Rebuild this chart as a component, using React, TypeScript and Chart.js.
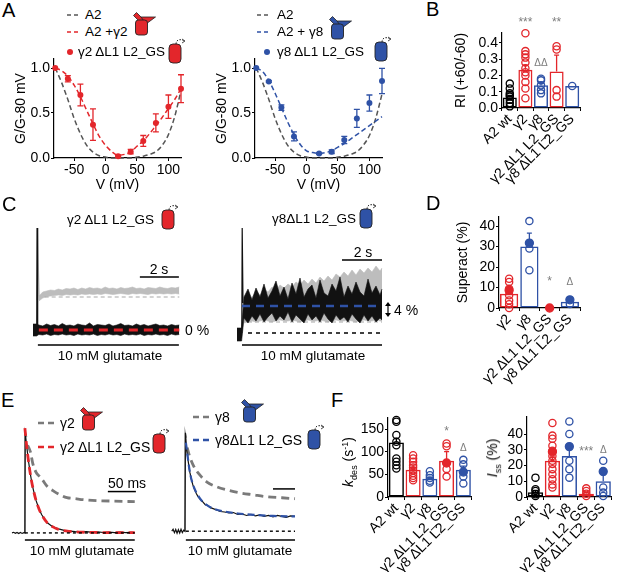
import React, { useEffect, useRef } from 'react';
import { Chart, registerables } from 'chart.js';

Chart.register(...registerables);

const FONT = "'Liberation Sans', Arial, Helvetica, sans-serif";
Chart.defaults.font.family = FONT;
Chart.defaults.font.size = 14;
Chart.defaults.color = '#000';

const RED = '#e3262b';
const BLUE = '#2f52a6';
const BLACK = '#000000';
const DARKGRAY = '#555555';
const MIDGRAY = '#7a7a7a';
const LIGHTGRAY = '#bdbdbd';
const REFGRAY = '#a8a8a8';
const SIGGRAY = '#7d7d7d';
const NONE = 'rgba(255,255,255,0)';

// ================= Panel A : G/G-80 vs V =================
const gvVoltage = [-80, -60, -40, -20, 20, 40, 60, 80, 100, 120];
const gvG2dl = [1.0, 0.88, 0.7, 0.37, 0.02, 0.07, 0.19, 0.39, 0.57, 0.77];
const gvG2dlErr = [0, 0.035, 0.12, 0.175, 0.01, 0.025, 0.06, 0.1, 0.13, 0.155];
const gvG8dl = [1.0, 0.85, 0.56, 0.24, 0.05, 0.07, 0.2, 0.44, 0.61, 0.855];
const gvG8dlErr = [0, 0.01, 0.03, 0.05, 0.01, 0.02, 0.04, 0.1, 0.09, 0.14];
const fitVoltage = [-80, -70, -60, -50, -40, -30, -20, -10, 0, 10, 20, 30, 40, 50, 60, 70, 80, 90, 100, 110, 120];
const fitA2left = [1.0, 0.84, 0.65, 0.44, 0.27, 0.14, 0.065, 0.025, 0.01, 0.0, 0.0, 0.0, 0.0, 0.01, 0.02, 0.04, 0.07, 0.14, 0.26, 0.46, 0.75];
const fitA2right = [1.0, 0.84, 0.65, 0.44, 0.27, 0.14, 0.065, 0.025, 0.01, 0.0, 0.0, 0.0, 0.0, 0.01, 0.02, 0.04, 0.07, 0.14, 0.25, 0.44, 0.71];
const fitA2G2 = [1.0, 0.97, 0.91, 0.81, 0.68, 0.53, 0.38, 0.24, 0.14, 0.07, 0.03, 0.04, 0.07, 0.13, 0.19, 0.27, 0.36, 0.45, 0.55, 0.65, 0.77];
const fitA2G8 = [1.0, 0.96, 0.86, 0.72, 0.56, 0.4, 0.26, 0.15, 0.08, 0.06, 0.05, 0.06, 0.08, 0.12, 0.16, 0.21, 0.26, 0.31, 0.36, 0.41, 0.46];
const gvXTicks = [-50, 0, 50, 100];
const gvYTicks = [0, 0.5, 1.0];

// ================= Panel B : RI =================
const fiveCats = ['A2 wt', 'γ2', 'γ8', 'γ2 ΔL1 L2_GS', 'γ8 ΔL1 L2_GS'];
const fiveColors = [BLACK, RED, BLUE, RED, BLUE];
const riMean = [0.065, 0.235, 0.14, 0.225, 0.135];
const riSem = [0.012, 0.028, 0.015, 0.1, 0];
const riA2wt = [0.15, 0.12, 0.09, 0.08, 0.07, 0.05, 0.03, 0.01];
const riG2 = [0.46, 0.35, 0.33, 0.31, 0.28, 0.245, 0.22, 0.2, 0.16, 0.12, 0.06];
const riG8 = [0.18, 0.17, 0.14, 0.11, 0.09];
const riG2dl = [0.38, 0.36, 0.11, 0.07];
const riG8dl = [0.135];
const riSig = ['', '***', 'ΔΔ', '**', ''];
const riSigLevel = [0, 0.54, 0.275, 0.54, 0];
const riTicks = [0, 0.1, 0.2, 0.3, 0.4];

// ================= Panel C : superactivation traces =================
const cLeftT = [-0.2, -0.02, 0.1, 0.3, 0.5, 0.7, 0.9, 1.1, 1.3, 1.5, 1.7, 1.9, 2.1, 2.3, 2.5, 2.7, 2.9, 3.1, 3.3, 3.5, 3.7, 3.9, 4.1, 4.3, 4.5, 4.7, 4.9, 5.1, 5.3, 5.5, 5.7, 5.9, 6.1, 6.3, 6.5, 6.7, 6.9, 7.1, 7.3];
const cLeftBlackHi = [0.06, 0.06, 0.05, 0.04, 0.06, 0.045, 0.055, 0.04, 0.065, 0.045, 0.05, 0.04, 0.06, 0.05, 0.045, 0.07, 0.04, 0.055, 0.05, 0.045, 0.06, 0.04, 0.05, 0.065, 0.045, 0.05, 0.04, 0.06, 0.045, 0.055, 0.04, 0.05, 0.06, 0.045, 0.05, 0.04, 0.055, 0.045, 0.05];
const cLeftBlackLo = [-0.06, -0.06, -0.045, -0.05, -0.04, -0.055, -0.045, -0.05, -0.04, -0.05, -0.045, -0.055, -0.04, -0.05, -0.045, -0.05, -0.04, -0.055, -0.045, -0.05, -0.04, -0.05, -0.045, -0.055, -0.04, -0.05, -0.045, -0.05, -0.04, -0.055, -0.045, -0.05, -0.04, -0.05, -0.045, -0.055, -0.04, -0.05, -0.045];
const cLeftGrayT = [0.1, 0.3, 0.5, 0.7, 0.9, 1.1, 1.3, 1.5, 1.7, 1.9, 2.1, 2.3, 2.5, 2.7, 2.9, 3.1, 3.3, 3.5, 3.7, 3.9, 4.1, 4.3, 4.5, 4.7, 4.9, 5.1, 5.3, 5.5, 5.7, 5.9, 6.1, 6.3, 6.5, 6.7, 6.9, 7.1, 7.3];
const cLeftGrayHi = [0.34, 0.38, 0.39, 0.4, 0.395, 0.41, 0.4, 0.415, 0.41, 0.42, 0.405, 0.42, 0.41, 0.425, 0.415, 0.42, 0.41, 0.43, 0.415, 0.42, 0.41, 0.425, 0.415, 0.42, 0.43, 0.415, 0.42, 0.41, 0.425, 0.42, 0.415, 0.43, 0.42, 0.415, 0.425, 0.42, 0.43];
const cLeftGrayLo = [0.29, 0.32, 0.335, 0.34, 0.345, 0.35, 0.345, 0.355, 0.35, 0.355, 0.35, 0.36, 0.355, 0.36, 0.355, 0.36, 0.355, 0.365, 0.36, 0.355, 0.36, 0.365, 0.36, 0.355, 0.365, 0.36, 0.365, 0.36, 0.355, 0.365, 0.36, 0.365, 0.36, 0.365, 0.36, 0.365, 0.36];
const cLeftSpikeT = [-0.01, 0.01, 0.04];
const cLeftSpikeBlack = [-0.04, 1.02, 0.04];
const cLeftSpikeGrayT = [0.0, 0.02, 0.12];
const cLeftSpikeGray = [0.3, 1.02, 0.3];
const cLeftGrayRefT = [0.4, 7.3];
const cLeftGrayRef = [0.33, 0.33];
const cLeftRedT = [0.1, 7.3];
const cLeftRed = [0, 0];
const cLeftGluT = [0.05, 7.28];
const cLeftGlu = [-0.15, -0.15];
const cLeftScaleT = [5.28, 7.28];
const cLeftScale = [0.53, 0.53];

const cRightT = [-0.25, -0.02, 0.1, 0.3, 0.5, 0.7, 0.9, 1.1, 1.3, 1.5, 1.7, 1.9, 2.1, 2.3, 2.5, 2.7, 2.9, 3.1, 3.3, 3.5, 3.7, 3.9, 4.1, 4.3, 4.5, 4.7, 4.9, 5.1, 5.3, 5.5, 5.7, 5.9, 6.1, 6.3, 6.5, 6.7, 6.9, 7.0];
const cRightBlackHi = [0.05, 0.05, 0.36, 0.44, 0.33, 0.45, 0.36, 0.49, 0.35, 0.42, 0.52, 0.37, 0.46, 0.34, 0.5, 0.39, 0.55, 0.36, 0.44, 0.48, 0.35, 0.53, 0.4, 0.37, 0.49, 0.42, 0.56, 0.36, 0.47, 0.39, 0.51, 0.41, 0.37, 0.54, 0.4, 0.47, 0.38, 0.44];
const cRightBlackLo = [-0.08, -0.08, 0.15, 0.1, 0.17, 0.12, 0.19, 0.11, 0.16, 0.2, 0.12, 0.17, 0.13, 0.21, 0.11, 0.18, 0.14, 0.1, 0.19, 0.13, 0.17, 0.11, 0.2, 0.14, 0.1, 0.18, 0.13, 0.16, 0.11, 0.19, 0.14, 0.1, 0.18, 0.12, 0.17, 0.11, 0.15, 0.13];
const cRightGrayT = [0.1, 0.3, 0.5, 0.7, 0.9, 1.1, 1.3, 1.5, 1.7, 1.9, 2.1, 2.3, 2.5, 2.7, 2.9, 3.1, 3.3, 3.5, 3.7, 3.9, 4.1, 4.3, 4.5, 4.7, 4.9, 5.1, 5.3, 5.5, 5.7, 5.9, 6.1, 6.3, 6.5, 6.7, 6.9, 7.0];
const cRightGrayHi = [0.3, 0.35, 0.36, 0.41, 0.38, 0.44, 0.41, 0.46, 0.43, 0.48, 0.45, 0.49, 0.46, 0.51, 0.48, 0.53, 0.49, 0.54, 0.5, 0.56, 0.52, 0.57, 0.53, 0.59, 0.56, 0.61, 0.57, 0.63, 0.58, 0.64, 0.6, 0.65, 0.61, 0.67, 0.62, 0.65];
const cRightGrayLo = [0.1, 0.11, 0.12, 0.11, 0.12, 0.13, 0.12, 0.11, 0.12, 0.13, 0.12, 0.12, 0.13, 0.12, 0.11, 0.12, 0.13, 0.12, 0.12, 0.13, 0.12, 0.11, 0.12, 0.13, 0.12, 0.12, 0.13, 0.12, 0.11, 0.12, 0.13, 0.12, 0.12, 0.13, 0.12, 0.12];
const cRightSpikeT = [-0.01, 0.01, 0.05];
const cRightSpike = [0.0, 1.05, 0.3];
const cRightRefT = [0.3, 7.0];
const cRightBaseline = [0, 0];
const cRightGrayRef = [0.11, 0.11];
const cRightBlueT = [0.0, 7.0];
const cRightBlue = [0.27, 0.27];
const cRightGluT = [0.0, 7.0];
const cRightGlu = [-0.12, -0.12];
const cRightScaleT = [5.0, 7.0];
const cRightScale = [0.73, 0.73];

// ================= Panel D : Superactivation =================
const fourCats = ['γ2', 'γ8', 'γ2 ΔL1 L2_GS', 'γ8 ΔL1 L2_GS'];
const fourColors = [RED, BLUE, RED, BLUE];
const saMean = [7, 30, 0, 3];
const saSem = [1.2, 6.5, 0, 0];
const saG2 = [14.3, 12.7, 9.4, 6.2, 3.7, 1.8, 0];
const saG2Ex = [8.6];
const saG8 = [42.4, 29, 18.4];
const saG8Ex = [31.7];
const saG2dlEx = [0];
const saG8dl = [2];
const saG8dlEx = [4];
const saSig = ['', '', '*', 'Δ'];
const saSigLevel = [0, 0, 13.7, 12.7];
const saTicks = [0, 10, 20, 30, 40];

// ================= Panel E : desensitization traces =================
const eLeftBlackT = [-23, -20, -17, -14, -11, -8, -5, -2, 0, 0.5, 3, 6, 9, 12, 15, 20, 25, 30, 40, 50, 60, 70, 80, 90, 100, 110, 120, 130, 140, 150, 160, 170, 180, 190, 196];
const eLeftBlack = [0.0, 0.006, -0.004, 0.005, -0.006, 0.004, -0.005, 0.003, 0.0, 1.0, 0.87, 0.73, 0.61, 0.51, 0.43, 0.32, 0.24, 0.18, 0.1, 0.06, 0.04, 0.025, 0.018, 0.012, 0.01, 0.012, 0.006, 0.01, 0.004, 0.008, 0.003, 0.007, 0.002, 0.006, 0.003];
const eLeftRedT = [0, 3, 6, 9, 12, 15, 20, 25, 30, 40, 50, 60, 80, 100, 130, 160, 196];
const eLeftRed = [1.04, 0.87, 0.73, 0.61, 0.51, 0.43, 0.32, 0.24, 0.18, 0.1, 0.06, 0.035, 0.015, 0.008, 0.004, 0.002, 0.002];
const eLeftGrayT = [5, 10, 14, 20, 26, 32, 40, 50, 62, 75, 90, 104, 130, 160, 196];
const eLeftGray = [0.87, 0.8, 0.69, 0.6, 0.56, 0.52, 0.46, 0.42, 0.38, 0.35, 0.34, 0.33, 0.32, 0.315, 0.31];
const eRiseT = [0, 0.5, 3];
const eRise = [0, 1.0, 0.95];
const eLeftBaseT = [0, 196];
const eLeftBase = [0, 0];
const eLeftGluT = [0, 196];
const eLeftGlu = [-0.07, -0.07];
const eLeftScaleT = [148, 198];
const eLeftScale = [0.41, 0.41];

const eRightBlackT = [-30, -27, -24, -21, -18, -15, -12, -9, -6, -3, 0, 1, 4, 7, 11, 15, 18, 22, 26, 30, 34, 40, 46, 52, 58, 64, 72, 80, 90, 100, 110, 120, 130, 140, 150, 160, 170, 180, 190, 200, 210, 220, 230, 240, 250];
const eRightBlack = [0.0, 0.02, -0.015, 0.018, -0.02, 0.015, -0.018, 0.02, -0.015, 0.01, 0.0, 1.0, 0.82, 0.72, 0.6, 0.52, 0.47, 0.42, 0.38, 0.35, 0.33, 0.3, 0.27, 0.26, 0.24, 0.23, 0.215, 0.2, 0.195, 0.185, 0.19, 0.17, 0.175, 0.16, 0.17, 0.155, 0.165, 0.15, 0.16, 0.145, 0.16, 0.15, 0.14, 0.155, 0.15];
const eRightBlueT = [2, 5, 10, 15, 20, 30, 40, 55, 70, 90, 120, 160, 200, 250];
const eRightBlue = [0.9, 0.8, 0.63, 0.52, 0.45, 0.36, 0.3, 0.25, 0.22, 0.2, 0.18, 0.165, 0.155, 0.15];
const eRightGrayT = [5, 10, 20, 34, 50, 73, 100, 125, 155, 186, 220, 250];
const eRightGray = [0.85, 0.77, 0.66, 0.57, 0.5, 0.45, 0.415, 0.39, 0.37, 0.35, 0.34, 0.33];
const eRightBaseT = [2, 250];
const eRightBase = [0, 0];
const eRightGluT = [2, 250];
const eRightGlu = [-0.09, -0.09];
const eRightScaleT = [200, 250];
const eRightScale = [0.43, 0.43];

// ================= Panel F : k_des and I_ss =================
const kMean = [120, 60, 40, 80, 60];
const kSem = [9, 5, 4, 20, 8];
const kA2wt = [170, 166, 137, 122, 114, 85, 78, 70, 63];
const kG2 = [92, 85, 78, 70, 65, 59, 53, 47, 42, 37];
const kG8 = [57, 48, 42, 36, 32];
const kG2dl = [118, 112, 62, 45];
const kG2dlEx = [75];
const kG8dl = [82, 72, 45, 30];
const kG8dlEx = [55];
const kSig = ['', '', '', '*', 'Δ'];
const kSigLevel = [0, 0, 0, 148, 107];
const kTicks = [0, 50, 100, 150];

const issMean = [3, 23, 26, 2, 10];
const issSem = [1.2, 2.5, 4.5, 0.8, 4];
const issA2wt = [12.3, 4.9, 3.8, 1.7, 0.6];
const issG2 = [47, 39, 37, 32.5, 29.4, 26, 23, 21, 17.7, 14.5, 11.3, 8, 6];
const issG2Ex = [28.7];
const issG8 = [48, 40, 23, 17.7, 12.3];
const issG8Ex = [32];
const issG2dl = [5.5, 3.8, 2.1, 0.6];
const issG8dl = [23, 6, 2.8, 0.6];
const issG8dlEx = [16.2];
const issSig = ['', '', '', '***', 'Δ'];
const issSigLevel = [0, 0, 0, 30, 30];
const issTicks = [0, 10, 20, 30, 40];

// ================= layout frames (plot areas in page pixels) =================
type Frame = { l: number; t: number; r: number; b: number; ml?: number; mt?: number; mr?: number; mb?: number; pad?: number };
const frAL: Frame = { l: 54, t: 59, r: 181, b: 158, ml: 41, mt: 6, mr: 6, mb: 36 };
const frAR: Frame = { l: 255, t: 59, r: 382, b: 158, ml: 41, mt: 6, mr: 6, mb: 36 };
const frB: Frame = { l: 502, t: 33, r: 580, b: 108, ml: 49, mt: 30, mr: 8, mb: 100 };
const frCL: Frame = { l: 33, t: 222, r: 182, b: 348, pad: 3 };
const frCR: Frame = { l: 237, t: 222, r: 383, b: 348, pad: 3 };
const frD: Frame = { l: 499, t: 217, r: 580, b: 308, ml: 44, mt: 12, mr: 8, mb: 95 };
const frEL: Frame = { l: 12, t: 425, r: 137, b: 543, pad: 3 };
const frER: Frame = { l: 172, t: 425, r: 295, b: 543, pad: 3 };
const frFL: Frame = { l: 388, t: 418, r: 472, b: 497, ml: 34, mt: 12, mr: 5, mb: 75 };
const frFR: Frame = { l: 527, t: 417, r: 613, b: 497, ml: 30, mt: 12, mr: 4, mb: 75 };

function geom(f: Frame) {
  if (f.pad !== undefined) {
    return { left: f.l - f.pad, top: f.t - f.pad, w: f.r - f.l + 2 * f.pad, h: f.b - f.t + 2 * f.pad };
  }
  return { left: f.l - f.ml!, top: f.t - f.mt!, w: f.r - f.l + f.ml! + f.mr!, h: f.b - f.t + f.mt! + f.mb! };
}

// ================= plugins =================
const errorBarPlugin = {
  id: 'errbars',
  afterDatasetsDraw(chart: any) {
    const ctx = chart.ctx;
    chart.data.datasets.forEach((ds: any, di: number) => {
      if (!ds.errors) return;
      const meta = chart.getDatasetMeta(di);
      const ys = chart.scales[meta.yAxisID];
      meta.data.forEach((el: any, i: number) => {
        const e = ds.errors[i];
        if (!e) return;
        const raw = ds.data[i];
        const v = typeof raw === 'number' ? raw : raw.y;
        const x = el.x;
        const top = ys.getPixelForValue(v + e);
        const bot = ds.errUp ? ys.getPixelForValue(v) : ys.getPixelForValue(v - e);
        const cap = ds.errCap ?? 3;
        ctx.save();
        ctx.strokeStyle = Array.isArray(ds.errColor) ? ds.errColor[i] : ds.errColor;
        ctx.lineWidth = 1.3;
        ctx.beginPath();
        ctx.moveTo(x, top);
        ctx.lineTo(x, bot);
        ctx.moveTo(x - cap, top);
        ctx.lineTo(x + cap, top);
        if (!ds.errUp) {
          ctx.moveTo(x - cap, bot);
          ctx.lineTo(x + cap, bot);
        }
        ctx.stroke();
        ctx.restore();
      });
    });
  },
};

const sigPlugin = {
  id: 'sig',
  afterDatasetsDraw(chart: any, _a: any, opts: any) {
    if (!opts || !opts.labels) return;
    const ctx = chart.ctx;
    const xs = chart.scales.x;
    const ys = chart.scales.y;
    ctx.save();
    ctx.fillStyle = SIGGRAY;
    ctx.textAlign = 'center';
    ctx.textBaseline = 'middle';
    opts.labels.forEach((t: string, i: number) => {
      if (!t) return;
      const isTri = t.indexOf('Δ') >= 0;
      ctx.font = `${isTri ? 10 : 12}px ${FONT}`;
      ctx.fillText(t, xs.getPixelForValue(i), ys.getPixelForValue(opts.levels[i]) + (isTri ? 0 : 2));
    });
    ctx.restore();
  },
};

// ================= option builders =================
function baseOptions(f: Frame, scales: any, extraPlugins: any = {}) {
  const hasAxes = f.pad === undefined;
  return {
    animation: false,
    responsive: true,
    maintainAspectRatio: false,
    events: [],
    layout: {
      padding: hasAxes
        ? { left: 0, top: f.mt, right: f.mr, bottom: 0 }
        : { left: f.pad, top: f.pad, right: f.pad, bottom: f.pad },
    },
    plugins: { legend: { display: false }, tooltip: { enabled: false }, ...extraPlugins },
    scales,
  };
}

function zeroPad(s: any) {
  s.paddingLeft = 0;
  s.paddingRight = 0;
  s.paddingTop = 0;
  s.paddingBottom = 0;
}

function valueAxis(axis: 'x' | 'y', min: number, max: number, ticks: number[], fmt: (v: number) => string, size: number, title?: string) {
  return {
    type: 'linear',
    min,
    max,
    afterBuildTicks: (s: any) => {
      s.ticks = ticks.map((v) => ({ value: v }));
    },
    afterFit: (s: any) => {
      if (axis === 'y') s.width = size;
      else s.height = size;
      zeroPad(s);
    },
    grid: { drawOnChartArea: false, drawTicks: true, tickLength: 3, color: '#000', lineWidth: 1 },
    border: { display: true, color: '#000', width: 1.2 },
    ticks: { padding: 1, maxRotation: 0, autoSkip: false, color: '#000', font: { size: 14 }, callback: (v: any) => fmt(Number(v)) },
    title: title ? { display: true, text: title, padding: 0, color: '#000', font: { size: 14 } } : { display: false },
  };
}

function categoryAxis(size: number) {
  return {
    type: 'category',
    offset: true,
    afterFit: (s: any) => {
      s.height = size;
      zeroPad(s);
    },
    grid: { offset: true, drawOnChartArea: false, drawTicks: true, tickLength: 3, color: '#000', lineWidth: 1 },
    border: { display: true, color: '#000', width: 1.2 },
    ticks: { minRotation: 45, maxRotation: 45, autoSkip: false, padding: 0, color: '#000', font: { size: 14 } },
  };
}

function lineDs(xs: number[], ys: number[], color: string, width = 1.5, dash: number[] = [], extra: any = {}) {
  return {
    type: 'line',
    data: xs.map((x, i) => ({ x, y: ys[i] })),
    borderColor: color,
    backgroundColor: color,
    borderWidth: width,
    borderDash: dash,
    pointRadius: 0,
    tension: 0,
    fill: false,
    clip: false,
    ...extra,
  };
}

function bandDs(xs: number[], lo: number[], hi: number[], color: string) {
  return [lineDs(xs, lo, color, 0.6), lineDs(xs, hi, color, 0.6, [], { fill: '-1', backgroundColor: color })];
}

function ordered(ds: any[]) {
  ds.forEach((d, i) => (d.order = -i));
  return ds;
}

function gvConfig(f: Frame, a2: number[], fit: number[], pts: number[], errs: number[], color: string) {
  const datasets = ordered([
    lineDs(fitVoltage, a2, DARKGRAY, 1.5, [5, 3], { cubicInterpolationMode: 'monotone' }),
    lineDs(fitVoltage, fit, color, 1.5, [5, 3], { cubicInterpolationMode: 'monotone' }),
    {
      type: 'line',
      showLine: false,
      data: gvVoltage.map((x, i) => ({ x, y: pts[i] })),
      pointRadius: 3,
      pointBackgroundColor: color,
      pointBorderColor: color,
      pointBorderWidth: 0,
      errors: errs,
      errColor: color,
      errCap: 3,
      clip: false,
    },
  ]);
  return {
    type: 'line',
    data: { datasets },
    options: baseOptions(f, {
      x: valueAxis('x', -82, 120, gvXTicks, (v) => String(v), f.mb!, 'V (mV)'),
      y: valueAxis('y', 0, 1.1, gvYTicks, (v) => v.toFixed(1), f.ml!, 'G/G-80 mV'),
    }),
    plugins: [errorBarPlugin],
  };
}

type Group = { cat: number; vals: number[]; filled?: boolean };

function barConfig(f: Frame, cats: string[], colors: string[], means: number[], sems: number[], groups: Group[], yMax: number, yTicks: number[], fmt: (v: number) => string, yTitle: string | undefined, sig: string[], sigLevel: number[]) {
  const datasets: any[] = [
    {
      type: 'bar',
      data: means,
      borderColor: colors,
      backgroundColor: NONE,
      borderWidth: 1.5,
      borderSkipped: false,
      categoryPercentage: 0.9,
      barPercentage: 1,
      errors: sems,
      errUp: true,
      errColor: colors,
      errCap: 2.5,
    },
  ];
  groups.forEach((g) =>
    datasets.push({
      type: 'line',
      showLine: false,
      data: g.vals.map((v) => ({ x: cats[g.cat], y: v })),
      pointRadius: g.filled ? 4 : 3.6,
      pointBorderWidth: 1.3,
      pointBorderColor: colors[g.cat],
      pointBackgroundColor: g.filled ? colors[g.cat] : NONE,
      clip: false,
    })
  );
  return {
    type: 'bar',
    data: { labels: cats, datasets: ordered(datasets) },
    options: baseOptions(
      f,
      {
        x: categoryAxis(f.mb!),
        y: valueAxis('y', 0, yMax, yTicks, fmt, f.ml!, yTitle),
      },
      { sig: { labels: sig, levels: sigLevel } }
    ),
    plugins: [errorBarPlugin, sigPlugin],
  };
}

function traceConfig(f: Frame, xr: number[], yr: number[], datasets: any[]) {
  return {
    type: 'line',
    data: { datasets: ordered(datasets) },
    options: baseOptions(f, {
      x: { type: 'linear', display: false, min: xr[0], max: xr[1] },
      y: { type: 'linear', display: false, min: yr[0], max: yr[1] },
    }),
  };
}

// scale ranges of the trace panels
const cLeftX = [-0.2, 7.44];
const cLeftY = [-0.18, 1.08];
const cRightX = [-0.25, 7.05];
const cRightY = [-0.15, 1.11];
const eLeftX = [-23, 200];
const eLeftY = [-0.1, 1.07];
const eRightX = [-29.5, 250];
const eRightY = [-0.12, 1.08];

const makers: Record<string, () => any> = {
  aL: () => gvConfig(frAL, fitA2left, fitA2G2, gvG2dl, gvG2dlErr, RED),
  aR: () => gvConfig(frAR, fitA2right, fitA2G8, gvG8dl, gvG8dlErr, BLUE),
  b: () =>
    barConfig(frB, fiveCats, fiveColors, riMean, riSem,
      [{ cat: 0, vals: riA2wt }, { cat: 1, vals: riG2 }, { cat: 2, vals: riG8 }, { cat: 3, vals: riG2dl }, { cat: 4, vals: riG8dl }],
      0.4615, riTicks, (v) => v.toFixed(1), 'RI (+60/-60)', riSig, riSigLevel),
  d: () =>
    barConfig(frD, fourCats, fourColors, saMean, saSem,
      [{ cat: 0, vals: saG2 }, { cat: 0, vals: saG2Ex, filled: true }, { cat: 1, vals: saG8 }, { cat: 1, vals: saG8Ex, filled: true },
       { cat: 2, vals: saG2dlEx, filled: true }, { cat: 3, vals: saG8dl }, { cat: 3, vals: saG8dlEx, filled: true }],
      44.4, saTicks, (v) => String(v), 'Superact (%)', saSig, saSigLevel),
  fL: () =>
    barConfig(frFL, fiveCats, fiveColors, kMean, kSem,
      [{ cat: 0, vals: kA2wt }, { cat: 1, vals: kG2 }, { cat: 2, vals: kG8 }, { cat: 3, vals: kG2dl }, { cat: 3, vals: kG2dlEx, filled: true },
       { cat: 4, vals: kG8dl }, { cat: 4, vals: kG8dlEx, filled: true }],
      174.3, kTicks, (v) => String(v), undefined, kSig, kSigLevel),
  fR: () =>
    barConfig(frFR, fiveCats, fiveColors, issMean, issSem,
      [{ cat: 0, vals: issA2wt }, { cat: 1, vals: issG2 }, { cat: 1, vals: issG2Ex, filled: true }, { cat: 2, vals: issG8 }, { cat: 2, vals: issG8Ex, filled: true },
       { cat: 3, vals: issG2dl }, { cat: 4, vals: issG8dl }, { cat: 4, vals: issG8dlEx, filled: true }],
      50.8, issTicks, (v) => String(v), undefined, issSig, issSigLevel),
  cL: () =>
    traceConfig(frCL, cLeftX, cLeftY, [
      lineDs(cLeftSpikeGrayT, cLeftSpikeGray, LIGHTGRAY, 1.2),
      ...bandDs(cLeftGrayT, cLeftGrayLo, cLeftGrayHi, LIGHTGRAY),
      lineDs(cLeftGrayRefT, cLeftGrayRef, REFGRAY, 1.2, [4, 3]),
      lineDs(cLeftSpikeT, cLeftSpikeBlack, '#111', 1.2),
      ...bandDs(cLeftT, cLeftBlackLo, cLeftBlackHi, '#111'),
      lineDs(cLeftRedT, cLeftRed, RED, 3, [9, 6]),
      lineDs(cLeftGluT, cLeftGlu, BLACK, 1.5),
      lineDs(cLeftScaleT, cLeftScale, BLACK, 1.5),
    ]),
  cR: () =>
    traceConfig(frCR, cRightX, cRightY, [
      lineDs(cRightRefT, cRightBaseline, BLACK, 1.5, [4, 4]),
      ...bandDs(cRightGrayT, cRightGrayLo, cRightGrayHi, LIGHTGRAY),
      lineDs(cRightRefT, cRightGrayRef, REFGRAY, 1.2, [4, 3]),
      lineDs(cRightSpikeT, cRightSpike, '#111', 1.2),
      ...bandDs(cRightT, cRightBlackLo, cRightBlackHi, '#111'),
      lineDs(cRightBlueT, cRightBlue, BLUE, 2.5, [8, 6]),
      lineDs(cRightGluT, cRightGlu, BLACK, 1.5),
      lineDs(cRightScaleT, cRightScale, BLACK, 1.5),
    ]),
  eL: () =>
    traceConfig(frEL, eLeftX, eLeftY, [
      lineDs(eRiseT, eRise, '#9a9a9a', 1.6),
      lineDs(eLeftGrayT, eLeftGray, MIDGRAY, 2.8, [8, 5], { cubicInterpolationMode: 'monotone' }),
      lineDs(eLeftBlackT, eLeftBlack, '#111', 1.2),
      lineDs(eLeftRedT, eLeftRed, RED, 2.8, [8, 5], { cubicInterpolationMode: 'monotone' }),
      lineDs(eLeftBaseT, eLeftBase, BLACK, 1.4, [3, 3]),
      lineDs(eLeftGluT, eLeftGlu, BLACK, 1.5),
      lineDs(eLeftScaleT, eLeftScale, BLACK, 1.5),
    ]),
  eR: () =>
    traceConfig(frER, eRightX, eRightY, [
      lineDs(eRiseT, eRise, '#9a9a9a', 1.6),
      lineDs(eRightGrayT, eRightGray, MIDGRAY, 2.8, [8, 5], { cubicInterpolationMode: 'monotone' }),
      lineDs(eRightBlackT, eRightBlack, '#111', 1.2),
      lineDs(eRightBlueT, eRightBlue, BLUE, 2.2, [7, 4], { cubicInterpolationMode: 'monotone' }),
      lineDs(eRightBaseT, eRightBase, BLACK, 1.4, [3, 3]),
      lineDs(eRightGluT, eRightGlu, BLACK, 1.5),
      lineDs(eRightScaleT, eRightScale, BLACK, 1.5),
    ]),
};

const frames: Record<string, Frame> = { aL: frAL, aR: frAR, b: frB, cL: frCL, cR: frCR, d: frD, eL: frEL, eR: frER, fL: frFL, fR: frFR };

function ChartBox({ id }: { id: string }) {
  const ref = useRef<HTMLCanvasElement>(null);
  useEffect(() => {
    const ch = new Chart(ref.current as HTMLCanvasElement, makers[id]() as any);
    return () => ch.destroy();
  }, [id]);
  const g = geom(frames[id]);
  return (
    <div style={{ position: 'absolute', left: g.left, top: g.top, width: g.w, height: g.h }}>
      <canvas ref={ref} />
    </div>
  );
}

// ================= HTML overlays (text, legends, icons) =================
function T({ x, y, s = 14, c = '#000', a = 'l', children }: { x: number; y: number; s?: number; c?: string; a?: 'l' | 'c' | 'r'; children: React.ReactNode }) {
  const tx = a === 'l' ? '0' : a === 'c' ? '-50%' : '-100%';
  return (
    <div style={{ position: 'absolute', left: x, top: y, transform: `translate(${tx},-50%)`, fontSize: s, color: c, whiteSpace: 'nowrap', lineHeight: 1 }}>
      {children}
    </div>
  );
}

function VT({ x, y, s = 14, children }: { x: number; y: number; s?: number; children: React.ReactNode }) {
  return (
    <div style={{ position: 'absolute', left: x, top: y, transform: 'translate(-50%,-50%) rotate(-90deg)', fontSize: s, whiteSpace: 'nowrap', lineHeight: 1 }}>
      {children}
    </div>
  );
}

function Dash({ x1, x2, y, c, w = 1.5, d = '4 3' }: { x1: number; x2: number; y: number; c: string; w?: number; d?: string }) {
  return (
    <svg style={{ position: 'absolute', left: x1, top: y - 3, overflow: 'visible' }} width={x2 - x1} height={6}>
      <line x1={0} y1={3} x2={x2 - x1} y2={3} stroke={c} strokeWidth={w} strokeDasharray={d} />
    </svg>
  );
}

function Dot({ x, y, c }: { x: number; y: number; c: string }) {
  return <div style={{ position: 'absolute', left: x - 3, top: y - 3, width: 6, height: 6, borderRadius: 3, background: c }} />;
}

function IconFull({ x, y, c }: { x: number; y: number; c: string }) {
  return (
    <svg style={{ position: 'absolute', left: x, top: y }} width={24} height={24} viewBox="0 0 24 24">
      <polygon points="0.5,3.5 3.5,0.5 11.5,8.5 8.5,11.5" fill={c} stroke="#222" strokeWidth={0.8} />
      <polygon points="8,5 22.5,5 13,12" fill={c} stroke="#222" strokeWidth={0.8} />
      <rect x={2.5} y={8} width={12} height={15} rx={3} fill={c} stroke="#222" strokeWidth={0.9} />
    </svg>
  );
}

function IconDL({ x, y, c }: { x: number; y: number; c: string }) {
  return (
    <svg style={{ position: 'absolute', left: x, top: y }} width={20} height={26} viewBox="0 0 20 26">
      <path d="M8 6 C8 1.5, 12.5 0.5, 16 3" fill="none" stroke="#222" strokeWidth={1} strokeDasharray="1.5 1.5" />
      <path d="M14 1 L17 3 L14 5" fill="none" stroke="#222" strokeWidth={0.8} />
      <rect x={1} y={6} width={12} height={19} rx={4} fill={c} stroke="#222" strokeWidth={0.9} />
    </svg>
  );
}

function DoubleArrow({ x, y1, y2 }: { x: number; y1: number; y2: number }) {
  return (
    <svg style={{ position: 'absolute', left: x - 4, top: y1 }} width={8} height={y2 - y1}>
      <line x1={4} y1={2} x2={4} y2={y2 - y1 - 2} stroke="#000" strokeWidth={1.2} />
      <polygon points={`1,4 4,0 7,4`} fill="#000" />
      <polygon points={`1,${y2 - y1 - 4} 4,${y2 - y1} 7,${y2 - y1 - 4}`} fill="#000" />
    </svg>
  );
}

export default function App() {
  return (
    <div style={{ position: 'absolute', left: 0, top: 0, width: 617, height: 572, overflow: 'hidden', background: '#fff', fontFamily: FONT, color: '#000' }}>
      {['aL', 'aR', 'b', 'cL', 'cR', 'd', 'eL', 'eR', 'fL', 'fR'].map((id) => (
        <ChartBox key={id} id={id} />
      ))}

      {/* panel letters */}
      <T x={2} y={10} s={20}>A</T>
      <T x={426} y={9} s={20}>B</T>
      <T x={2} y={204} s={20}>C</T>
      <T x={426} y={203} s={20}>D</T>
      <T x={1} y={400} s={20}>E</T>
      <T x={331} y={400} s={20}>F</T>

      {/* A left legend */}
      <Dash x1={67} x2={81} y={15} c={DARKGRAY} />
      <T x={85} y={15} s={13.5}>A2</T>
      <Dash x1={67} x2={81} y={32} c={RED} />
      <T x={85} y={32} s={13.5}>A2 +γ2</T>
      <Dot x={70} y={52} c={RED} />
      <T x={78} y={52} s={13.5}>γ2 ΔL1 L2_GS</T>
      <IconFull x={133} y={12} c={RED} />
      <IconDL x={168} y={38} c={RED} />

      {/* A right legend */}
      <Dash x1={257} x2={271} y={15} c={DARKGRAY} />
      <T x={277} y={15} s={13.5}>A2</T>
      <Dash x1={257} x2={271} y={32} c={BLUE} />
      <T x={277} y={32} s={13.5}>A2 + γ8</T>
      <Dot x={267} y={52} c={BLUE} />
      <T x={277} y={52} s={13.5}>γ8 ΔL1 L2_GS</T>
      <IconFull x={329} y={16} c={BLUE} />
      <IconDL x={374} y={36} c={BLUE} />

      {/* C left */}
      <T x={67} y={220} s={13.5}>γ2 ΔL1 L2_GS</T>
      <IconDL x={161} y={204} c={RED} />
      <T x={159} y={269} a="c">2 s</T>
      <T x={185} y={330}>0 %</T>
      <T x={110} y={356} s={13.5} a="c">10 mM glutamate</T>

      {/* C right */}
      <T x={356} y={219} s={13.5} a="r">γ8ΔL1 L2_GS</T>
      <IconDL x={359} y={203} c={BLUE} />
      <T x={363} y={252} a="c">2 s</T>
      <DoubleArrow x={388} y1={302} y2={317} />
      <T x={394} y={310}>4 %</T>
      <T x={313} y={356} s={13.5} a="c">10 mM glutamate</T>

      {/* E left */}
      <Dash x1={38} x2={56} y={423} c={MIDGRAY} w={2.6} d="6 4" />
      <T x={60} y={423} s={14}>γ2</T>
      <IconFull x={80} y={407} c={RED} />
      <Dash x1={38} x2={56} y={447} c={RED} w={2.6} d="6 4" />
      <T x={60} y={447} s={14}>γ2 ΔL1 L2_GS</T>
      <IconDL x={152} y={428} c={RED} />
      <T x={127} y={483} a="c">50 ms</T>
      <T x={82} y={551} s={13.5} a="c">10 mM glutamate</T>

      {/* E right */}
      <Dash x1={193} x2={211} y={417} c={MIDGRAY} w={2.6} d="6 4" />
      <T x={215} y={417} s={14}>γ8</T>
      <IconFull x={241} y={399} c={BLUE} />
      <Dash x1={193} x2={211} y={440} c={BLUE} w={2.6} d="6 4" />
      <T x={215} y={440} s={14}>γ8ΔL1 L2_GS</T>
      <IconDL x={307} y={424} c={BLUE} />
      <T x={240} y={551} s={13.5} a="c">10 mM glutamate</T>

      {/* F y titles */}
      <VT x={350} y={462}>
        <i>k</i>
        <span style={{ fontSize: 9, verticalAlign: 'sub' }}>des</span>
        {' ('}s<span style={{ fontSize: 9, verticalAlign: 'super' }}>-1</span>)
      </VT>
      <VT x={494} y={458}>
        <i>I</i>
        <span style={{ fontSize: 9, verticalAlign: 'sub' }}>ss</span> (%)
      </VT>
    </div>
  );
}
